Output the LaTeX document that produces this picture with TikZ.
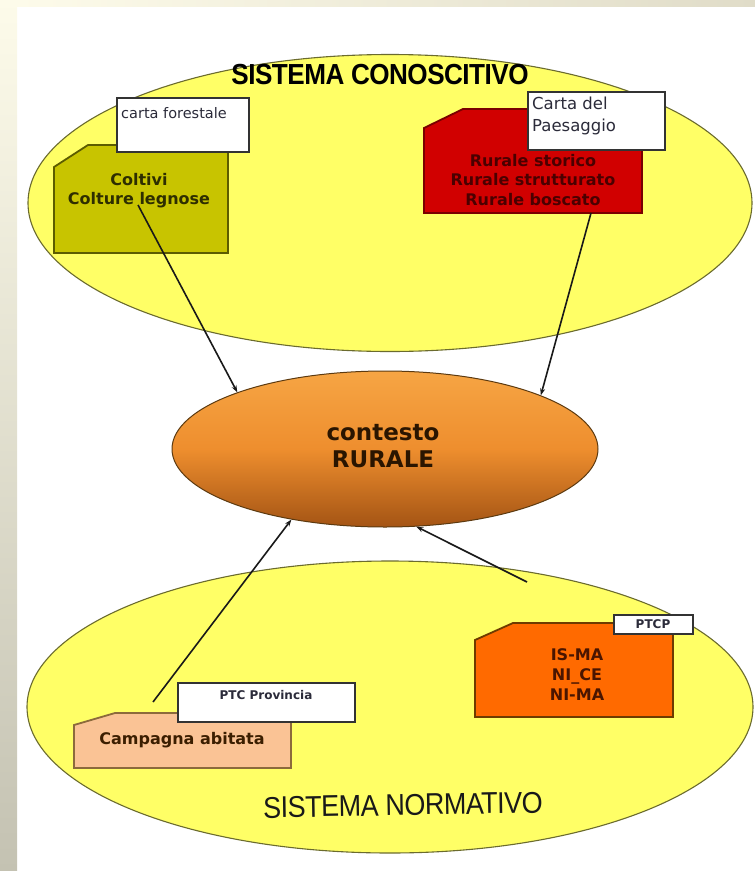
\documentclass[tikz,border=0pt]{standalone}
\usepackage{fontspec}
\setmainfont{DejaVu Sans}
\newfontfamily\titlefont[LetterSpace=-2]{Liberation Sans}
\usetikzlibrary{shapes.geometric,arrows.meta}

\definecolor{framelight}{HTML}{FDFBEA}
\definecolor{framegrey}{HTML}{C4C2B2}
\definecolor{frametan}{HTML}{E0DCC8}
\definecolor{ellyellow}{HTML}{FFFF66}
\definecolor{ellline}{HTML}{6B6B2E}
\definecolor{coltfill}{HTML}{C8C400}
\definecolor{coltline}{HTML}{5C5C00}
\definecolor{colttext}{HTML}{2E2E00}
\definecolor{rurfill}{HTML}{D10000}
\definecolor{rurline}{HTML}{7A0000}
\definecolor{rurtext}{HTML}{4A0000}
\definecolor{ptcpfill}{HTML}{FF6A00}
\definecolor{ptcpline}{HTML}{6E3B00}
\definecolor{ptcptext}{HTML}{4A1500}
\definecolor{campfill}{HTML}{FAC395}
\definecolor{campline}{HTML}{8C6A3C}
\definecolor{camptext}{HTML}{3B1E00}
\definecolor{tagline}{HTML}{333333}
\definecolor{tagtext}{HTML}{2B2B3A}
\definecolor{conttop}{HTML}{F6A544}
\definecolor{contmid}{HTML}{EE8E2E}
\definecolor{contbottom}{HTML}{A45414}
\definecolor{contline}{HTML}{5C3A10}
\definecolor{conttext}{HTML}{2A1500}

\tikzset{
  bigell/.style={ellipse, draw=ellline, line width=1.1pt, fill=ellyellow, inner sep=0pt},
  chambox/.style={line width=1.8pt, line join=miter},
  tagbox/.style={draw=tagline, line width=1.4pt, fill=white},
  boxtext/.style={font=\bfseries\fontsize{16}{19.5}\selectfont, align=center, inner sep=0pt},
  tagtext/.style={font=\fontsize{14.5}{22}\selectfont, text=tagtext, inner sep=0pt},
  smalltag/.style={font=\bfseries\fontsize{12}{14}\selectfont, text=tagtext, inner sep=0pt},
  conn/.style={draw=black!90, line width=1.6pt, -{Stealth[length=7pt,width=5pt]}},
  titletext/.style={inner sep=0pt, xscale=0.9},
}

\begin{document}
\begin{tikzpicture}[x=1pt,y=-1pt]
\useasboundingbox (0,0) rectangle (755,871);

% page frame
\node[minimum width=17pt, minimum height=871pt, inner sep=0pt, outer sep=0pt,
      top color=framelight, bottom color=framegrey] (leftframe) at (8.5,435.5) {};
\node[minimum width=738pt, minimum height=6pt, inner sep=0pt, outer sep=0pt,
      left color=framelight, right color=frametan] (topframe) at (386,3) {};

% the two systems and the central context
\node[bigell, minimum width=724pt, minimum height=297pt] (conoscitivo) at (390,203) {};
\node[bigell, minimum width=726pt, minimum height=292pt] (normativo) at (390,707) {};
\node[ellipse, inner sep=0pt, minimum width=426pt, minimum height=156pt,
      draw=contline, line width=1pt,
      top color=conttop, bottom color=contbottom, middle color=contmid] (contesto) at (385,449) {};

% forest map themes
\draw[chambox, draw=coltline, fill=coltfill] (88,145) -- (228,145) -- (228,253) -- (54,253) -- (54,167) -- cycle;
\draw[tagbox] (117,98) rectangle (249,152);
\node[tagtext, anchor=west] (forestale) at (121,113) {carta forestale};
\node[boxtext, text=colttext] (coltivi) at (139,190.5) {Coltivi\\Colture legnose};

% landscape map themes
\draw[chambox, draw=rurline, fill=rurfill] (463,109) -- (642,109) -- (642,213) -- (424,213) -- (424,128) -- cycle;
\draw[tagbox] (528,92) rectangle (665,150);
\node[tagtext, font=\fontsize{16.5}{22}\selectfont, anchor=west, align=left] (paesaggio) at (532,116) {Carta del\\Paesaggio};
\node[boxtext, text=rurtext] (rurale) at (533,180) {Rurale storico\\Rurale strutturato\\Rurale boscato};

% PTCP themes
\draw[chambox, draw=ptcpline, fill=ptcpfill] (513,623) -- (673,623) -- (673,717) -- (475,717) -- (475,640) -- cycle;
\draw[tagbox] (614,615) rectangle (693,634);
\node[smalltag] (ptcp) at (653,624.5) {PTCP};
\node[boxtext, text=ptcptext, font=\bfseries\fontsize{16}{20}\selectfont] (isma) at (577,675) {IS-MA\\NI\_CE\\NI-MA};

% PTC Provincia themes
\draw[chambox, draw=campline, fill=campfill] (115,713) -- (291,713) -- (291,768) -- (74,768) -- (74,725) -- cycle;
\draw[tagbox] (178,683) rectangle (355,722);
\node[smalltag] (ptcprov) at (266,695) {PTC Provincia};
\node[boxtext, text=camptext] (campagna) at (182,740) {Campagna abitata};

% titles and context label
\node[titletext, font=\titlefont\bfseries\fontsize{29}{32}\selectfont] (titlecon) at (380,75) {SISTEMA CONOSCITIVO};
\node[titletext, rotate=1, font=\titlefont\fontsize{30}{32}\selectfont, text=black!90] (titlenorm) at (403,805) {SISTEMA NORMATIVO};
\node[inner sep=0pt, align=center, text=conttext, font=\bfseries\fontsize{23}{27}\selectfont] (contlabel) at (383,446) {contesto\\RURALE};

% connectors
\coordinate (fromcolt) at (138,205);
\coordinate (fromrur) at (591,213);
\coordinate (fromcamp) at (153,702);
\coordinate (fromptcp) at (527,582);
\draw[conn] (fromcolt) -- (contesto.159.8);
\draw[conn] (fromrur) -- (contesto.19.9);
\draw[conn] (fromcamp) -- (contesto.217);
\draw[conn] (fromptcp) -- (contesto.-68);
\end{tikzpicture}
\end{document}
